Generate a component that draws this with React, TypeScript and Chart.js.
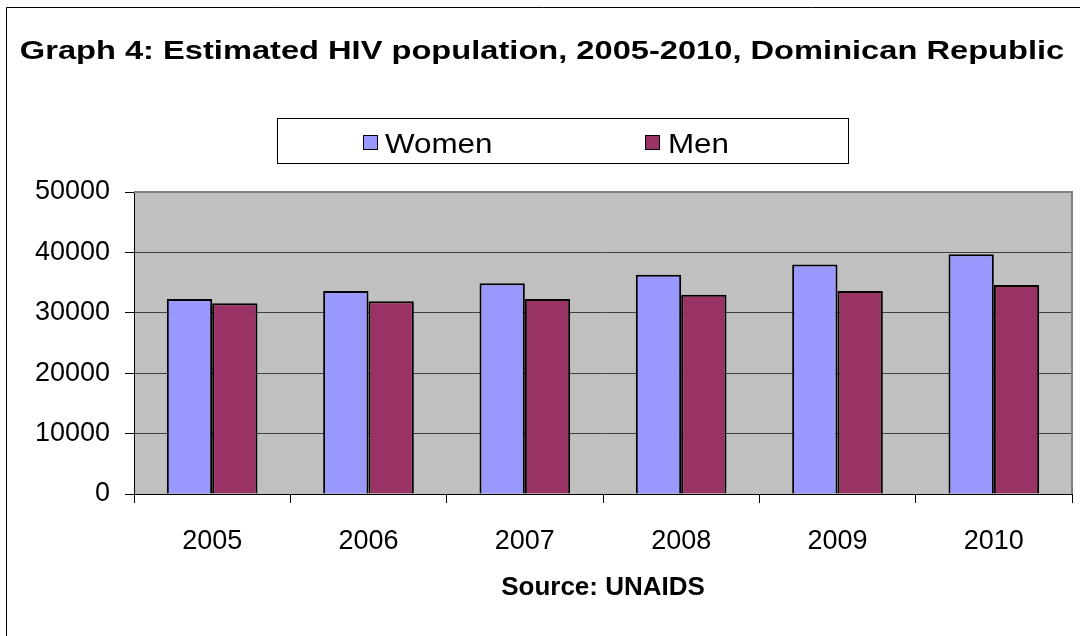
import React, { useEffect, useRef } from "react";
import { Chart, registerables } from "chart.js";

Chart.register(...registerables);

const categories = ["2005", "2006", "2007", "2008", "2009", "2010"];
const women = [32300, 33600, 34900, 36300, 38000, 39700];
const men = [31600, 31900, 32300, 33000, 33600, 34600];
const seriesNames = ["Women", "Men"];
const seriesColors = ["#9999FF", "#993366"];
const titleText = "Graph 4: Estimated HIV population, 2005-2010, Dominican Republic";
const xTitleText = "Source: UNAIDS";

const FONT = "'Liberation Sans', Arial, Helvetica, sans-serif";

function stretchedText(ctx: any, text: string, x: number, y: number, sx: number, align: string) {
  ctx.save();
  ctx.translate(x, y);
  ctx.scale(sx, 1);
  ctx.textAlign = align;
  ctx.fillText(text, 0, 0);
  ctx.restore();
}

const decorPlugin = {
  id: "decor",
  beforeDraw(chart: any) {
    const { ctx, chartArea: a } = chart;
    ctx.save();
    ctx.fillStyle = "#FFFFFF";
    ctx.fillRect(0, 0, chart.width, chart.height);
    ctx.fillStyle = "#C0C0C0";
    ctx.fillRect(a.left, a.top, a.right - a.left, a.bottom - a.top);
    ctx.restore();
  },
  beforeDatasetsDraw(chart: any) {
    const { ctx, chartArea: a } = chart;
    ctx.save();
    ctx.strokeStyle = "#808080";
    ctx.lineWidth = 2;
    ctx.beginPath();
    ctx.moveTo(a.left, a.top);
    ctx.lineTo(a.right, a.top);
    ctx.lineTo(a.right, a.bottom);
    ctx.stroke();
    ctx.restore();
  },
  afterDraw(chart: any) {
    const { ctx } = chart;
    ctx.save();
    // outer frame
    ctx.strokeStyle = "#000000";
    ctx.lineWidth = 1;
    ctx.beginPath();
    ctx.moveTo(6.5, chart.height);
    ctx.lineTo(6.5, 7.5);
    ctx.lineTo(chart.width, 7.5);
    ctx.stroke();
    // title
    ctx.fillStyle = "#000000";
    ctx.font = `bold 26px ${FONT}`;
    ctx.textBaseline = "middle";
    stretchedText(ctx, titleText, 542, 52, 1.255, "center");
    // legend box
    ctx.fillStyle = "#FFFFFF";
    ctx.fillRect(277.5, 118.5, 571, 45);
    ctx.strokeStyle = "#000000";
    ctx.strokeRect(277.5, 118.5, 571, 45);
    const items = [
      { box: 363, text: 385 },
      { box: 645, text: 668 },
    ];
    ctx.font = `28px ${FONT}`;
    ctx.textBaseline = "middle";
    items.forEach((it, i) => {
      ctx.fillStyle = seriesColors[i];
      ctx.fillRect(it.box, 135, 15, 15);
      ctx.strokeStyle = "#000000";
      ctx.lineWidth = 1;
      ctx.strokeRect(it.box + 0.5, 135.5, 14, 14);
      ctx.fillStyle = "#000000";
      stretchedText(ctx, seriesNames[i], it.text, 145, 1.12, "left");
    });
    ctx.restore();
  },
};

export default function App() {
  const ref = useRef<HTMLCanvasElement>(null);
  useEffect(() => {
    if (!ref.current) return;
    const chart = new Chart(ref.current, {
      type: "bar",
      data: {
        labels: categories,
        datasets: [
          {
            label: seriesNames[0],
            data: women,
            backgroundColor: seriesColors[0],
            borderColor: "#000000",
            borderWidth: 2,
          },
          {
            label: seriesNames[1],
            data: men,
            backgroundColor: seriesColors[1],
            borderColor: "#000000",
            borderWidth: 2,
          },
        ],
      },
      options: {
        responsive: false,
        animation: false,
        devicePixelRatio: 1,
        layout: { padding: { top: 192, left: 0, right: 8, bottom: 0 } },
        datasets: { bar: { categoryPercentage: 0.58, barPercentage: 1 } },
        plugins: {
          legend: { display: false },
          tooltip: { enabled: false },
          title: { display: false },
        },
        scales: {
          x: {
            afterFit: (s: any) => {
              s.height = 142;
            },
            grid: {
              offset: true,
              drawOnChartArea: false,
              drawTicks: true,
              tickLength: 9,
              tickColor: "#000000",
              color: "#000000",
            },
            border: { display: true, color: "#000000", width: 1 },
            ticks: {
              color: "#000000",
              font: { family: FONT, size: 27 },
              padding: 22,
              maxRotation: 0,
            },
            title: {
              display: true,
              text: xTitleText,
              color: "#000000",
              font: { family: FONT, size: 26, weight: "bold", lineHeight: 1.2 },
              padding: { top: 0, bottom: 33 },
            },
          },
          y: {
            min: 0,
            max: 50000,
            afterFit: (s: any) => {
              s.width = 134;
            },
            grid: {
              color: "#404040",
              tickColor: "#000000",
              tickLength: 9,
              lineWidth: 1,
            },
            border: { display: true, color: "#000000", width: 1 },
            ticks: {
              stepSize: 10000,
              color: "#000000",
              font: { family: FONT, size: 27 },
              padding: 15,
              callback: (v: any) => String(v),
            },
          },
        },
      },
      plugins: [decorPlugin],
    });
    return () => chart.destroy();
  }, []);
  return (
    <div style={{ position: "absolute", left: 0, top: 0, width: 1080, height: 636 }}>
      <canvas ref={ref} width={1080} height={636} />
    </div>
  );
}
